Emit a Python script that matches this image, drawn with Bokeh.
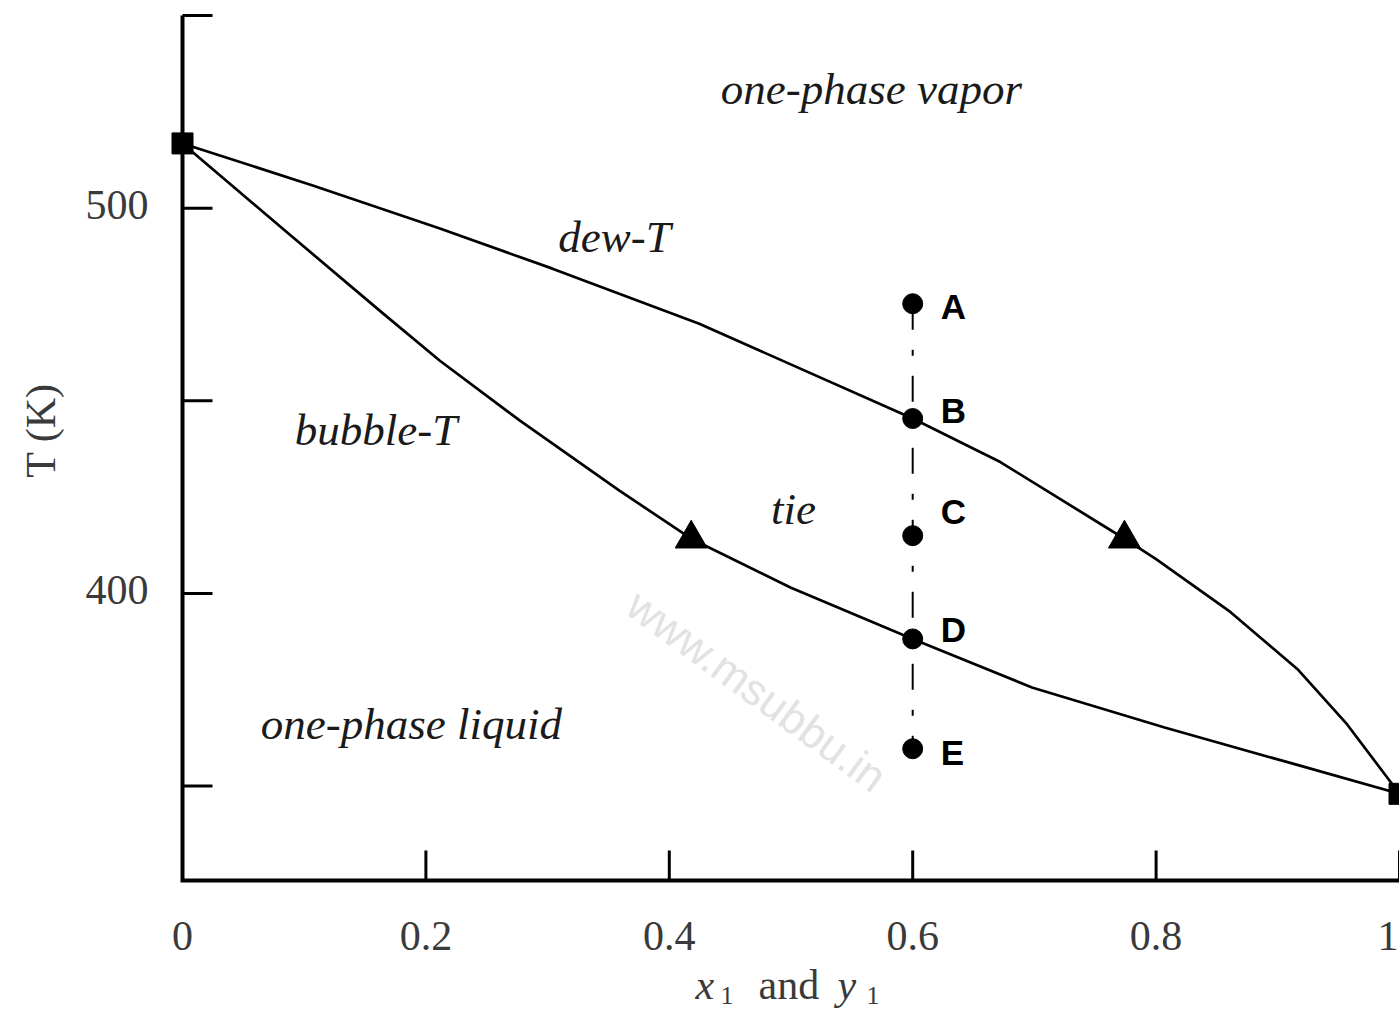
import math
from bokeh.plotting import figure
from bokeh.models import Range1d, Label
from bokeh.embed import file_html
from bokeh.resources import INLINE

# Dew-point temperature curve, T (K) vs vapour mole fraction y1
dew_x = [0.0, 0.107, 0.2115, 0.304, 0.4246, 0.6, 0.672, 0.774, 0.80, 0.861, 0.916, 0.957, 1.0]
dew_T = [516.8, 505.9, 494.7, 484.3, 470.0, 445.4, 434.1, 414.2, 408.9, 395.2, 380.4, 366.0, 348.0]

# Bubble-point temperature curve, T (K) vs liquid mole fraction x1
bubble_x = [0.0, 0.08, 0.162, 0.2115, 0.277, 0.359, 0.418, 0.5, 0.6, 0.698, 0.807, 0.916, 1.0]
bubble_T = [516.8, 495.3, 473.4, 460.4, 444.9, 426.7, 414.2, 401.5, 388.2, 375.6, 365.2, 355.5, 348.0]

# Pure-component boiling points
pure_x = [0.0, 1.0]
pure_T = [516.8, 348.0]

# Ends of the tie line (liquid x1, vapour y1)
tie_x = [0.418, 0.774]
tie_T = [414.2, 414.2]

# States A-E along the constant-composition path
state_names = ["A", "B", "C", "D", "E"]
state_x = 0.6
state_T = [475.2, 445.4, 415.0, 388.2, 359.7]

x_ticks = [0, 0.2, 0.4, 0.6, 0.8, 1.0]
x_tick_labels = ["0", "0.2", "0.4", "0.6", "0.8", "1"]
y_ticks = [350, 400, 450, 500, 550]
y_tick_labels = ["", "400", "", "500", ""]

# axis box: x from 0 to 1, T from 325.5 to 550 K
X0, X1 = 0.0, 1.0
Y0, Y1 = 325.5, 550.0
LEFT, RIGHT, TOP, BOTTOM = 182, 1399, 15, 880
PX_PER_X = (RIGHT - LEFT) / (X1 - X0)
PX_PER_K = (BOTTOM - TOP) / (Y1 - Y0)


def dx(px):
    """canvas column -> x1"""
    return X0 + (px - LEFT) / PX_PER_X


def dy(py):
    """canvas row -> T"""
    return Y1 - (py - TOP) / PX_PER_K


# the whole canvas is the plotting frame; axes are drawn by hand so the
# end-point markers can overhang the axis line
p = figure(width=1399, height=1013,
           x_range=Range1d(dx(0), dx(1399)), y_range=Range1d(dy(1013), dy(0)),
           x_axis_location=None, y_axis_location=None,
           min_border=0, min_border_left=0, min_border_right=0,
           min_border_top=0, min_border_bottom=0,
           output_backend="svg", toolbar_location=None)
p.outline_line_color = None
p.xgrid.visible = False
p.ygrid.visible = False
p.background_fill_color = "white"
p.border_fill_color = "white"

INK = "#3a3a3a"
TICK_LEN = 30

# faint site mark
p.add_layout(Label(x=0.472, y=374.8, text="www.msubbu.in", angle=-0.63,
                   text_align="center", text_baseline="middle",
                   text_font="Liberation Sans", text_font_size="44px",
                   text_color="#e2e2e2", level="underlay"))

# axis lines
p.line([X0, X0, X1], [Y1, Y0, Y0], line_color="black", line_width=4,
       line_join="miter")
# ticks pointing into the plot
p.segment(x0=[X0] * len(y_ticks), y0=y_ticks,
          x1=[X0 + TICK_LEN / PX_PER_X] * len(y_ticks), y1=y_ticks,
          line_color="black", line_width=3)
p.segment(x0=x_ticks, y0=[Y0] * len(x_ticks),
          x1=x_ticks, y1=[Y0 + TICK_LEN / PX_PER_K] * len(x_ticks),
          line_color="black", line_width=3)

for t, lab in zip(x_ticks, x_tick_labels):
    last = t == x_ticks[-1]
    p.add_layout(Label(x=t, y=Y0 - 41 / PX_PER_K, text=lab,
                       x_offset=-1 if last else 0,
                       text_align="right" if last else "center",
                       text_baseline="top", text_font="Liberation Serif",
                       text_font_size="42px", text_color=INK))
for t, lab in zip(y_ticks, y_tick_labels):
    if lab:
        p.add_layout(Label(x=X0 - 34 / PX_PER_X, y=t + 3 / PX_PER_K, text=lab,
                           text_align="right", text_baseline="middle",
                           text_font="Liberation Serif", text_font_size="42px",
                           text_color=INK))

# phase boundaries
p.line(dew_x, dew_T, line_color="black", line_width=2.7)
p.line(bubble_x, bubble_T, line_color="black", line_width=2.7)

# constant-composition path A -> E
p.line([state_x, state_x], [state_T[0], state_T[-1]],
       line_color="black", line_width=2, line_dash="26 20 6 20")

p.scatter(pure_x, pure_T, marker="square", size=21, color="black")
p.scatter(tie_x, tie_T, marker="triangle", size=32, color="black")
p.scatter([state_x] * len(state_T), state_T, marker="circle", size=20, color="black")

# vertical nudge of each state letter, in pixels (up is positive)
letter_nudge = [-2.5, 8.5, 24.5, 9.5, -4.0]
for name, T, dy_px in zip(state_names, state_T, letter_nudge):
    p.add_layout(Label(x=state_x, y=T + dy_px / PX_PER_K, x_offset=28, text=name,
                       text_align="left", text_baseline="middle",
                       text_font="Liberation Sans", text_font_style="bold",
                       text_font_size="35px", text_color="black"))

region_labels = [
    ("one-phase vapor", 0.566, 531.0),
    ("dew-T", 0.355, 492.4),
    ("bubble-T", 0.159, 442.3),
    ("tie", 0.502, 422.0),
    ("one-phase liquid", 0.188, 366.2),
]
for txt, lx, ly in region_labels:
    p.add_layout(Label(x=lx, y=ly, text=txt, text_align="center",
                       text_baseline="middle", text_font="Liberation Serif",
                       text_font_style="italic", text_font_size="45px",
                       text_color="#1a1a1a"))

# axis titles
title_parts = [
    ("x", 695, 984, "italic", "42px"),
    ("1", 720, 995, "normal", "26px"),
    ("and", 758, 984, "normal", "42px"),
    ("y", 837, 984, "italic", "42px"),
    ("1", 866, 995, "normal", "26px"),
]
for txt, lx, ly, style, size in title_parts:
    p.add_layout(Label(x=dx(lx), y=dy(ly), text=txt, text_align="left",
                       text_baseline="middle", text_font="Liberation Serif",
                       text_font_style=style, text_font_size=size,
                       text_color=INK))

p.add_layout(Label(x=dx(40), y=dy(430), text="T (K)",
                   angle=math.pi / 2, text_align="center", text_baseline="middle",
                   text_font="Liberation Serif", text_font_size="42px",
                   text_color=INK))

open("out.html", "w").write(file_html(p, INLINE))
